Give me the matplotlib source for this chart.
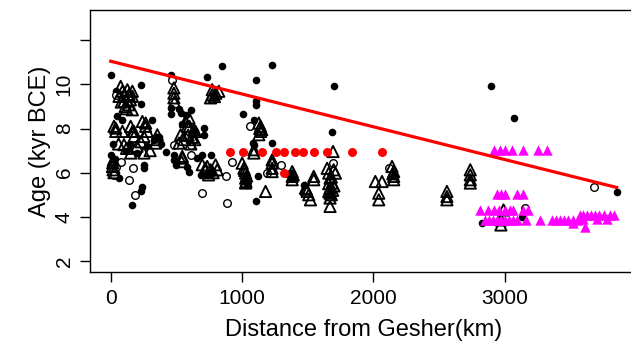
import numpy as np
import matplotlib
matplotlib.use('Agg')
import matplotlib.pyplot as plt

plt.rcParams['font.family'] = ['Liberation Sans', 'DejaVu Sans']

# black filled circles
filled_d = [5, 456, 735, 849, 1103, 1229, 1698, 228, 228, 38, 1686, 1009, 1090, 1229, 1085,
            456, 456, 520, 532, 570, 608, 710, 710, 51, 89, 317, 1110, 1103, 1090, 0, 63, 40,
            253, 253, 241, 228, 165, 423, 481, 481, 494, 583, 596, 659, 697, 760, 684, 720,
            760, 1123, 1110, 2894, 3072, 2826, 3131, 3853, 1027, 1035, 120, 150, 200, 280,
            330, 370, 20, 30, 380, 1369, 1470, 540, 640, 1030, 1670, 2155, 1382]
filled_age = [10.44, 10.44, 10.32, 10.85, 10.2, 10.9, 9.91, 9.96, 9.12, 9.69, 7.83, 8.67, 8.4,
              7.34, 7.34, 8.95, 8.65, 8.9, 8.7, 8.63, 8.85, 8.02, 7.72, 8.55, 8.4, 8.4, 9.23,
              9.06, 7.27, 6.81, 5.75, 6.0, 6.36, 6.2, 5.37, 5.15, 4.54, 6.92, 6.81, 6.58, 6.36,
              6.28, 6.05, 6.66, 6.81, 6.81, 5.9, 5.9, 5.95, 5.86, 4.72, 9.91, 8.48, 3.71, 3.98,
              5.12, 5.6, 5.45, 7.0, 7.3, 6.9, 7.2, 7.5, 7.6, 7.3, 6.6, 7.3, 5.98, 5.45, 8.2, 7.9,
              5.75, 5.4, 5.85, 5.75]

# black open circles
open_d = [38, 464, 481, 613, 170, 38, 25, 139, 185, 875, 925, 697, 882, 1057, 1192, 1293,
          1693, 2117, 3156, 3681, 560, 80, 608]
open_age = [9.53, 10.2, 7.27, 6.81, 6.2, 6.28, 5.9, 5.68, 5.0, 5.83, 6.5, 5.1, 4.62, 8.13,
            5.98, 6.36, 6.46, 6.2, 4.39, 5.37, 7.6, 6.5, 7.27]

# black open triangles
tri_d = [76, 89, 127, 165, 165, 63, 101, 139, 165, 120, 100, 140, 150, 80, 110,
         481, 481, 481, 485,
         773, 773, 823, 760, 790, 800,
         1128, 1141, 1141, 1128, 1135, 1150,
         25, 38, 89, 152, 165, 177, 241, 266, 279, 253, 355, 101, 152, 177, 253, 266, 342,
         38, 200, 120, 300, 230, 350, 60,
         570, 583, 646, 634, 620, 596, 600, 532, 557, 520, 545, 545, 540, 610, 640, 590,
         13, 20, 18, 25, 15,
         697, 735, 760, 798, 811, 745, 720, 780,
         1001, 1014, 1027, 1027, 1027, 1020, 1035, 1030,
         1090, 1090, 1179,
         1229, 1229, 1229, 1229,
         1382, 1382, 1382, 1390,
         1546, 1546,
         1483, 1496, 1508, 1521, 1490,
         1648, 1660, 1670, 1686, 1670, 1670, 1670, 1670, 1693, 1698, 1711, 1680, 1660, 1690,
         1680, 1660, 1700,
         2015, 2066, 2041, 2041,
         2142, 2155, 2155, 2155, 2148,
         2560, 2560, 2560,
         2738, 2738, 2738, 2738,
         2991, 2971, 2971]
tri_age = [9.91, 9.69, 9.76, 9.69, 9.46, 9.46, 9.23, 9.08, 8.85, 8.9, 9.5, 9.55, 9.3, 9.2, 9.0,
           9.84, 9.6, 9.39, 9.2,
           9.76, 9.53, 9.69, 9.39, 9.45, 9.6,
           8.25, 8.1, 7.87, 7.72, 8.0, 7.95,
           8.1, 7.87, 7.87, 8.1, 7.87, 7.64, 8.32, 8.1, 7.87, 7.64, 7.72, 7.27, 6.89, 7.87,
           6.89, 8.25, 7.34,
           8.02, 7.2, 7.1, 7.0, 7.4, 7.5, 7.3,
           8.32, 8.1, 7.87, 7.95, 7.6, 8.48, 8.1, 7.72, 7.5, 7.34, 6.66, 6.74, 6.5, 7.3, 7.5, 7.7,
           6.28, 6.58, 6.13, 6.0, 6.45,
           6.36, 6.28, 6.13, 6.36, 6.13, 5.9, 6.2, 6.0,
           6.43, 6.2, 5.98, 5.75, 5.53, 6.1, 5.85, 5.6,
           7.04, 6.89, 5.15,
           6.58, 6.43, 6.2, 6.05,
           6.05, 5.83, 5.68, 5.9,
           5.83, 5.68,
           5.3, 5.15, 5.0, 4.77, 5.25,
           6.2, 5.98, 5.75, 5.53, 5.3, 5.07, 4.85, 4.47, 6.96, 6.13, 5.98, 5.8, 5.5, 5.2,
           5.0, 5.15, 5.4,
           5.6, 5.6, 5.07, 4.77,
           6.28, 6.05, 5.83, 5.68, 5.95,
           5.15, 4.92, 4.77,
           6.13, 5.9, 5.68, 5.53,
           4.31, 3.86, 3.63]

# red filled circles
red_d = [907, 1009, 1153, 1255, 1318, 1407, 1465, 1546, 1648, 1838, 2066, 1318]
red_age = [6.96, 6.96, 6.96, 6.96, 6.96, 6.96, 6.96, 6.96, 6.96, 6.96, 6.96, 5.98]

# magenta filled triangles
mag_d = [2915, 2966, 3004, 3055, 3143, 3257, 3321,
         2945, 2975, 3005, 3095, 3140,
         2814, 2870, 2920, 2960, 3000, 3040, 3060, 3140, 3180,
         2850, 2880, 2910, 2940, 2970, 3000, 3030, 3060, 3090, 3160, 3270, 3360, 3390, 3420,
         3450, 3480, 3520, 3560,
         3570, 3600, 3630, 3660, 3690, 3720, 3760, 3800, 3830,
         3600, 3700, 3780, 3612, 3523]
mag_age = [7.04, 7.04, 7.04, 7.04, 7.04, 7.04, 7.04,
           5.04, 5.04, 5.04, 5.04, 5.04,
           4.31, 4.31, 4.31, 4.31, 4.31, 4.31, 4.31, 4.31, 4.31,
           3.86, 3.86, 3.86, 3.86, 3.86, 3.86, 3.86, 3.86, 3.86, 3.86, 3.86, 3.86, 3.86, 3.86,
           3.86, 3.86, 3.86, 3.86,
           4.09, 4.09, 4.09, 4.09, 4.09, 4.09, 4.09, 4.09, 4.09,
           3.9, 3.9, 3.9, 3.53, 3.7]

# regression line
fit_d = [0, 3853]
fit_age = [11.05, 5.33]

fig = plt.figure(figsize=(6.31, 3.52), dpi=100)
ax = fig.add_axes([0.1434, 0.2273, 0.866, 0.7429])

ax.scatter(filled_d, filled_age, s=30, c='black', marker='o', linewidths=0, zorder=3)
ax.scatter(open_d, open_age, s=30, facecolors='white', edgecolors='black', marker='o',
           linewidths=1.0, zorder=3)
ax.scatter(tri_d, tri_age, s=66, facecolors='none', edgecolors='black', marker='^',
           linewidths=1.35, zorder=3)
ax.scatter(red_d, red_age, s=42, c='red', marker='o', linewidths=0, zorder=3)
ax.scatter(mag_d, mag_age, s=56, c='magenta', marker='^', linewidths=0, zorder=3)
ax.plot(fit_d, fit_age, color='red', lw=2.3, zorder=4)

ax.set_xlim(-154, 4007)
ax.set_ylim(1.5, 13.35)
ax.set_xticks([0, 1000, 2000, 3000])
ax.set_yticks([2, 4, 6, 8, 10, 12])
ax.set_yticklabels(['2', '4', '6', '8', '10', ''], rotation=90, va='center')
ax.tick_params(direction='out', length=7, width=1, labelsize=15, pad=5)
for sp in ax.spines.values():
    sp.set_linewidth(1)
ax.set_xlabel('Distance from Gesher(km)', fontsize=17, labelpad=8)
ax.set_ylabel('Age (kyr BCE)', fontsize=17, labelpad=3)

fig.savefig('out.png', dpi=100)
